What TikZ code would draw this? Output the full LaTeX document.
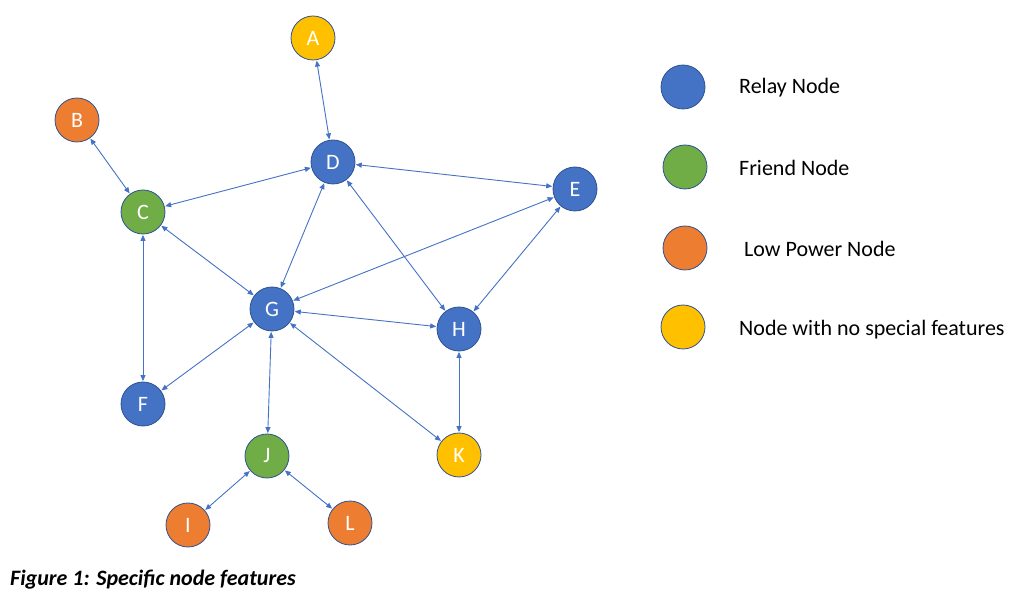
\documentclass[tikz,border=0pt]{standalone}
\usepackage{fontspec}
\setmainfont{Carlito}
\usetikzlibrary{arrows.meta}
\definecolor{relay}{HTML}{4472C4}
\definecolor{friend}{HTML}{70AD47}
\definecolor{lowpow}{HTML}{ED7D31}
\definecolor{plain}{HTML}{FFC000}
\definecolor{rim}{HTML}{2F528F}
\definecolor{edgec}{HTML}{4472C4}
\tikzset{
  nd/.style={circle, minimum size=44pt, inner sep=0pt, draw=rim, line width=0.8pt, text=white, font=\fontsize{22}{22}\selectfont},
  rl/.style={nd, fill=relay},
  fr/.style={nd, fill=friend},
  lp/.style={nd, fill=lowpow},
  pl/.style={nd, fill=plain},
  link/.style={draw=edgec, line width=0.9pt, {Triangle[width=5pt,length=6pt]}-{Triangle[width=5pt,length=6pt]}, shorten <=0.5pt, shorten >=0.5pt},
  lg/.style={anchor=west, inner sep=0pt, font=\fontsize{22}{22}\selectfont},
}
\begin{document}
\begin{tikzpicture}[x=1pt,y=-1pt]
\useasboundingbox (0,0) rectangle (1023,601);
\node[pl] (A) at (313,38) {A};
\node[lp] (B) at (77,120) {B};
\node[fr] (C) at (143,212) {C};
\node[rl] (D) at (333,162) {D};
\node[rl] (E) at (575,189) {E};
\node[rl] (F) at (143,404) {F};
\node[rl] (G) at (272,309) {G};
\node[rl] (H) at (459,329) {H};
\node[fr] (J) at (267,456) {J};
\node[pl] (K) at (459,455) {K};
\node[lp] (I) at (188,525) {I};
\node[lp] (L) at (350,523) {L};
\foreach \a/\b in {A/D,B/C,C/D,C/G,C/F,D/G,D/E,D/H,E/G,E/H,G/H,G/F,G/J,G/K,H/K,J/I,J/L}
  \draw[link] (\a) -- (\b);
% legend
\node[rl] (k1) at (683,87) {};
\node[fr] (k2) at (685,167) {};
\node[lp] (k3) at (685,248) {};
\node[pl] (k4) at (683,327) {};
\node[lg] (t1) at (739,88) {Relay Node};
\node[lg] (t2) at (739,168) {Friend Node};
\node[lg] (t3) at (739,249) {\ Low Power Node};
\node[lg] (t4) at (739,330) {Node with no special features};
\node[anchor=west, inner sep=0pt, font=\fontsize{22}{22}\selectfont\bfseries\itshape] (cap) at (10,580) {Figure 1: Specific node features};
\end{tikzpicture}
\end{document}
